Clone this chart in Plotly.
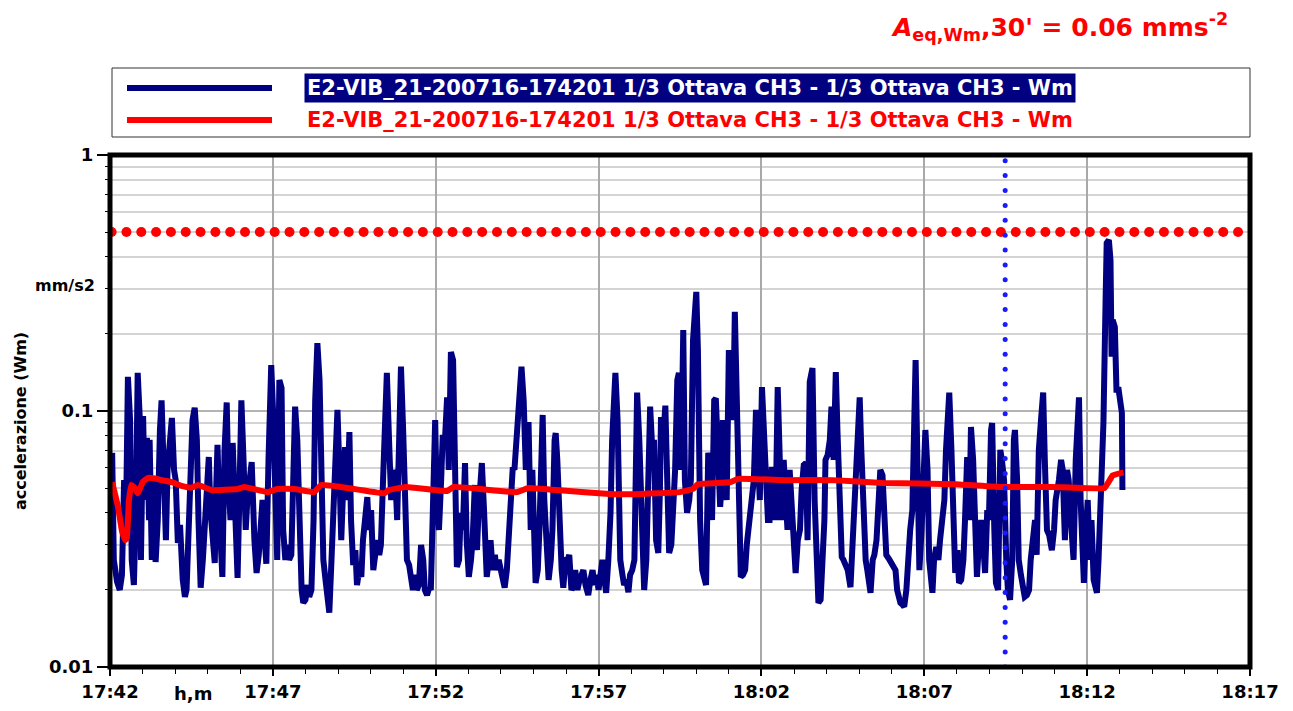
import numpy as np
import pandas as pd
import plotly.graph_objects as go

# ---------------- data ----------------
base_time = pd.Timestamp("2020-07-16 17:42:00")

# blue series: elapsed seconds from 17:42:00 and acceleration (mm/s2)
seg1_t = [4,7,13,18,22,26,29,33,37,40,44,48,51,55,57,61,64,68,72,73,77,81,84,88,92,95,99,103,106,110,
          114,118,121,125,129,134,138,141,145,149,152,156,160,163,167,171,174,178,182,185,189,193,195,198,202,
          207,211,215,218,222,226,230,235,239,242,246,250,253,257,261,266,270,274,277,281,285,288,292,294,297,
          301,305,308]
seg1_v = [0.0686,0.0262,0.0215,0.0200,0.0229,0.0537,0.0313,0.136,0.0922,0.0262,
          0.0209,0.0449,0.141,0.0922,0.0262,0.0955,0.0449,0.0785,0.0375,0.0771,
          0.0262,0.0537,0.0257,0.0375,0.0843,0.110,0.0589,0.0313,0.0589,0.0771,
          0.0939,0.0589,0.0537,0.0305,0.0359,0.0219,0.0188,0.0200,0.0313,0.0589,
          0.0922,0.103,0.0771,0.0375,0.0204,0.0262,0.0343,0.0449,0.0661,0.0410,
          0.0313,0.0255,0.0449,0.0737,0.0375,0.0225,0.0705,0.108,0.0537,0.0375,
          0.0750,0.0449,0.0223,0.0537,0.110,0.0644,0.0343,0.0449,0.0537,0.0632,
          0.0313,0.0233,0.0274,0.0375,0.0449,0.0313,0.0253,0.0644,0.132,0.151,
          0.0922,0.0491,0.0262]

seg2_t = [312,316,319,323,327,330,334,338,341,345,349,353,356,360,364,367,371,375,378,382,
          386,389,393,397,400,404,408,411,415,419,422,426,430,433,437,441,444,448,452,455,
          459,463,466,470,474,477,481,485,488,492,496,499,503,507,510,514,518,521,525,529,
          532,536,540,543,547,551,554,558,562,565,569,573,577,580,584,588,591,595,599,602,
          606,610,613,617,621]
seg2_v = [0.132,0.123,0.0343,0.0262,0.0300,0.0262,0.0274,0.0705,0.104,0.0771,
          0.0313,0.0200,0.0178,0.0183,0.0209,0.0188,0.0200,0.0375,0.110,0.184,
          0.132,0.0589,0.0262,0.0219,0.0183,0.0163,0.0262,0.0410,0.0705,0.101,
          0.0644,0.0313,0.0537,0.0723,0.0449,0.0828,0.0375,0.0250,0.0286,0.0209,
          0.0239,0.0225,0.0313,0.0375,0.0461,0.0343,0.0410,0.0239,0.0262,0.0313,
          0.0274,0.0300,0.0537,0.132,0.141,0.0771,0.0449,0.0537,0.0589,0.0375,
          0.0922,0.149,0.0843,0.0449,0.0262,0.0250,0.0219,0.0200,0.0229,0.0200,
          0.0209,0.0300,0.0262,0.0200,0.0191,0.0204,0.0200,0.0589,0.0922,0.0449,
          0.0343,0.0537,0.0806,0.0771,0.113]

seg3_t = [624,628,632,635,639,643,646,650,654,657,661,665,668,672,676,679,685,689,694,698,
          701,705,709,712,716,720,723,727,731,734,738,742,745,749,755,758,762,766,769,771,
          775,778,784,788,791,795,797,800,804,808,812,815,819,821,824,828,832,835,839,843,
          846,850,854,857,861,865,868,872,876,881,885,889,892,896,900,903,907,911,914,918,
          922,925,929,931,935,936]
seg3_v = [0.0589,0.170,0.158,0.0705,0.0246,0.0262,0.0400,0.0343,0.0626,0.0313,
          0.0225,0.0262,0.0313,0.0514,0.0286,0.0410,0.0626,0.0410,0.0225,0.0262,
          0.0313,0.0239,0.0274,0.0239,0.0262,0.0239,0.0219,0.0204,0.0239,0.0294,
          0.0449,0.0604,0.0589,0.0771,0.121,0.149,0.110,0.0589,0.0771,0.0906,
          0.0343,0.0589,0.0213,0.0239,0.0343,0.0922,0.0965,0.0449,0.0262,0.0219,
          0.0262,0.0343,0.0771,0.0820,0.0644,0.0313,0.0239,0.0204,0.0262,0.0262,
          0.0274,0.0200,0.0209,0.0239,0.0200,0.0219,0.0229,0.0239,0.0209,0.0191,
          0.0219,0.0239,0.0209,0.0229,0.0200,0.0229,0.0262,0.0219,0.0195,0.0262,
          0.0400,0.0771,0.132,0.141,0.0922,0.0537]

seg4_t = [940,944,947,951,955,958,962,966,969,971,975,979,982,984,988,991,995,999,1002,1006,
          1010,1013,1015,1019,1023,1026,1030,1034,1037,1041,1045,1048,1052,1056,1059,1063,1067,1070,1074,1078,
          1080,1083,1087,1091,1094,1098,1102,1105,1109,1113,1116,1120,1124,1127,1129,1133,1136,1140,1144,1148,
          1151,1155,1159,1162,1166,1170,1173,1179,1182,1186,1190,1193,1197,1201,1204,1208,1212,1215,1219,1223,
          1226,1230,1234,1237,1241,1245]
seg4_v = [0.0262,0.0229,0.0209,0.0219,0.0196,0.0229,0.0239,0.0262,0.0843,0.118,
          0.0771,0.0375,0.0239,0.0200,0.0262,0.0644,0.104,0.0705,0.0771,0.0313,
          0.0279,0.0491,0.0948,0.0771,0.105,0.0589,0.0279,0.0300,0.0410,0.0589,
          0.132,0.141,0.0589,0.207,0.0537,0.0400,0.0449,0.0537,0.189,0.271,
          0.292,0.173,0.0375,0.0239,0.0219,0.0209,0.0686,0.0644,0.0375,0.110,
          0.112,0.0705,0.0422,0.0537,0.0922,0.0644,0.0449,0.173,0.110,0.0922,
          0.244,0.0922,0.0313,0.0225,0.0229,0.0239,0.0300,0.0386,0.0410,0.0537,
          0.101,0.0771,0.0449,0.124,0.0843,0.0686,0.0375,0.0375,0.0589,0.0589,
          0.0375,0.124,0.0537,0.0375,0.0644,0.0449]

seg5_t = [1248,1252,1256,1260,1263,1267,1271,1274,1278,1282,1285,1289,1292,1294,1298,1302,1305,1309,1313,1316,
          1318,1322,1326,1329,1333,1337,1340,1344,1348,1351,1355,1359,1364,1368,1371,1375,1379,1381,1384,1388,
          1392,1395,1401,1405,1408,1412,1416,1419,1423,1427,1430,1436,1441,1447,1450,1456,1460,1463,1467,1471,
          1474,1478,1481,1484,1487,1491,1495,1498,1502,1506,1509,1515,1518,1522,1526,1529,1533,1537,1540,1544,
          1546,1550,1553,1557]
seg5_v = [0.0343,0.0589,0.0449,0.0343,0.0233,0.0313,0.0343,0.0491,0.0615,0.0626,
          0.0313,0.130,0.145,0.147,0.0449,0.0200,0.0178,0.0183,0.0262,0.0375,
          0.0644,0.0673,0.0771,0.104,0.0644,0.142,0.0843,0.0375,0.0269,0.0262,
          0.0250,0.0239,0.0205,0.0313,0.0400,0.0537,0.0922,0.113,0.0705,0.0375,
          0.0262,0.0239,0.0195,0.0262,0.0274,0.0313,0.0491,0.0589,0.0562,0.0343,
          0.0274,0.0262,0.0250,0.0239,0.0200,0.0178,0.0175,0.0172,0.0200,0.0286,
          0.0343,0.0410,0.110,0.158,0.0705,0.0239,0.0343,0.0589,0.0843,0.0589,
          0.0262,0.0195,0.0262,0.0294,0.0262,0.0313,0.0375,0.0449,0.0705,0.110,
          0.118,0.0705,0.0375,0.0233]

seg6_t = [1561,1564,1568,1572,1575,1579,1583,1586,1590,1594,1597,1601,1605,1608,1612,1616,1619,1623,1625,1629,
          1632,1636,1640,1643,1647,1651,1654,1658,1662,1665,1667,1671,1674,1678,1682,1685,1689,1693,1696,1700,
          1704,1707,1711,1715,1719,1722,1726,1730,1735,1739,1742,1748,1752,1755,1759,1763,1766,1770,1775,1779,
          1783,1785,1788,1794,1797,1801,1805,1808,1812,1818,1821,1825,1829,1830,1834,1836,1840,1843,1845,1847,
          1851,1854,1858,1862,1864,1865]
seg6_v = [0.0286,0.0213,0.0219,0.0262,0.0375,0.0661,0.0375,0.0866,0.0644,0.0343,
          0.0225,0.0313,0.0375,0.0313,0.0233,0.0410,0.0375,0.0843,0.0898,0.0343,
          0.0213,0.0200,0.0705,0.0644,0.0537,0.0262,0.0200,0.0183,0.0262,0.0771,
          0.0843,0.0537,0.0262,0.0229,0.0200,0.0188,0.0191,0.0200,0.0262,0.0313,
          0.0375,0.0274,0.0705,0.0922,0.118,0.0644,0.0343,0.0328,0.0286,0.0343,
          0.0449,0.0537,0.0644,0.0589,0.0313,0.0589,0.0537,0.0375,0.0262,0.0644,
          0.110,0.113,0.0449,0.0213,0.0313,0.0449,0.0262,0.0375,0.0219,0.0195,
          0.0262,0.0449,0.0771,0.0898,0.271,0.453,0.466,0.389,0.163,0.227,
          0.213,0.121,0.121,0.110,0.0983,0.0491]

# red series: running equivalent level (mm/s2)
leq_t = [4,15,22,28,31,35,39,46,51,61,70,83,95,114,132,150,162,187,235,248,290,308,340,376,389,426,
         505,514,545,621,633,749,771,823,927,964,1050,1074,1083,1142,1157,1245,1331,1423,1557,1643,
         1735,1832,1840,1847,1867]
leq_v = [0.0527,0.042,0.034,0.0313,0.032,0.045,0.0514,0.050,0.0477,0.053,0.0548,0.0545,0.0537,0.0527,
         0.051,0.0502,0.0514,0.0491,0.0496,0.0505,0.0482,0.0496,0.0496,0.0482,0.0514,0.0505,
         0.0477,0.0491,0.0505,0.0487,0.0505,0.0482,0.0500,0.0491,0.0473,0.0473,0.0482,0.0496,0.0518,
         0.0527,0.0543,0.0537,0.0537,0.0523,0.0518,0.0505,0.0505,0.0500,0.0530,0.0560,0.0576]

threshold_value = 0.5          # red dotted limit line (mm/s2)
cursor_seconds = 1649          # blue dotted cursor (18:09:29)
axis_span_min = 35             # 17:42 -> 18:17
tick_labels = ["17:42", "17:47", "17:52", "17:57", "18:02", "18:07", "18:12", "18:17"]
y_tick_vals = [0.01, 0.1, 1]
y_tick_text = ["0.01", "0.1", "1"]
y_minor_vals = [0.02, 0.03, 0.04, 0.05, 0.06, 0.07, 0.08, 0.09,
                0.2, 0.3, 0.4, 0.5, 0.6, 0.7, 0.8, 0.9]
series_name = "E2-VIB_21-200716-174201 1/3 Ottava CH3 - 1/3 Ottava CH3 - Wm"
title_text = "<b><i>A</i><sub>eq,Wm</sub>,30' = 0.06 mms<sup>-2</sup></b>"

# ---------------- build ----------------
blue_t = seg1_t + seg2_t + seg3_t + seg4_t + seg5_t + seg6_t
blue_v = seg1_v + seg2_v + seg3_v + seg4_v + seg5_v + seg6_v
x_blue = base_time + pd.to_timedelta(blue_t, unit="s")
x_leq = base_time + pd.to_timedelta(leq_t, unit="s")
x_end = base_time + pd.Timedelta(minutes=axis_span_min)
tick_vals = [base_time + pd.Timedelta(minutes=5 * i) for i in range(len(tick_labels))]

thr_x = base_time + pd.to_timedelta(np.linspace(3, 2078, 77), unit="s")
thr_y = [threshold_value] * len(thr_x)
cur_y = np.logspace(np.log10(0.95), -2, 35)
cur_x = [base_time + pd.Timedelta(seconds=cursor_seconds)] * len(cur_y)

FONT = "DejaVu Sans"
PAGE_OFF = 8                     # default body margin of the html page
FIG_W, FIG_H = 1293 - 2 * PAGE_OFF, 711 - 2 * PAGE_OFF
# plot area edges in page pixels
PL, PR, PT, PB = 110, 1250, 155, 667


def px(x):
    return (x - PL) / (PR - PL)


def py(y):
    return (PB - y) / (PB - PT)


fig = go.Figure()
fig.add_trace(go.Scatter(x=thr_x, y=thr_y, mode="markers",
                         marker=dict(color="#ff0000", size=10), hoverinfo="skip"))
fig.add_trace(go.Scatter(x=x_blue, y=blue_v, mode="lines", name=series_name,
                         line=dict(color="#000080", width=6)))
fig.add_trace(go.Scatter(x=x_leq, y=leq_v, mode="lines", name=series_name,
                         line=dict(color="#ff0000", width=6, shape="spline", smoothing=0.3)))
fig.add_trace(go.Scatter(x=cur_x, y=cur_y, mode="markers",
                         marker=dict(color="#1a1aff", size=5), hoverinfo="skip"))

tickfont = dict(family=FONT, size=18, color="black", weight="bold")

fig.update_layout(
    width=FIG_W, height=FIG_H, autosize=False,
    margin=dict(l=PL - PAGE_OFF, r=FIG_W - (PR - PAGE_OFF), t=PT - PAGE_OFF,
                b=FIG_H - (PB - PAGE_OFF), pad=0, autoexpand=False),
    plot_bgcolor="white", paper_bgcolor="white",
    showlegend=False,
    xaxis=dict(type="date", range=[base_time, x_end], automargin=False,
               tickmode="array", tickvals=tick_vals, ticktext=tick_labels,
               ticks="outside", ticklen=8, tickwidth=1.5, tickcolor="black",
               showgrid=True, gridcolor="#a9a9a9", gridwidth=1.5,
               zeroline=False, showline=False, tickfont=tickfont,
               minor=dict(tick0=base_time, dtick=60000, ticks="outside", ticklen=6,
                          tickwidth=1, tickcolor="black", showgrid=False)),
    yaxis=dict(type="log", range=[-2, 0], automargin=False,
               tickmode="array", tickvals=y_tick_vals, ticktext=y_tick_text,
               ticks="outside", ticklen=12, tickwidth=1.5, tickcolor="black",
               showgrid=True, gridcolor="#b4b4b4", gridwidth=2,
               zeroline=False, showline=False, tickfont=tickfont,
               minor=dict(tickmode="array", tickvals=y_minor_vals, ticks="outside", ticklen=4,
                          tickwidth=1, tickcolor="black", showgrid=True,
                          gridcolor="#d4d4d4", gridwidth=2)),
)

shapes = [
    # plot frame
    dict(type="rect", xref="paper", yref="paper", x0=0, x1=1, y0=0, y1=1,
         line=dict(color="black", width=5), layer="above"),
    # legend box
    dict(type="rect", xref="paper", yref="paper", x0=px(112), x1=px(1250), y0=py(137), y1=py(68),
         line=dict(color="#333333", width=1)),
    dict(type="line", xref="paper", yref="paper", x0=px(127), x1=px(272), y0=py(88), y1=py(88),
         line=dict(color="#000080", width=6)),
    dict(type="line", xref="paper", yref="paper", x0=px(127), x1=px(272), y0=py(120), y1=py(120),
         line=dict(color="#ff0000", width=6)),
]
fig.update_layout(shapes=shapes)

annotations = [
    dict(text=title_text, xref="paper", yref="paper", x=px(1230), y=py(27),
         xanchor="right", yanchor="middle", showarrow=False,
         font=dict(family=FONT, size=25, color="#ff0000")),
    dict(text=series_name, xref="paper", yref="paper", x=px(304), y=py(88),
         xanchor="left", yanchor="middle", showarrow=False, bgcolor="#000080", borderpad=2,
         font=dict(family=FONT, size=21, color="white", weight="bold")),
    dict(text=series_name, xref="paper", yref="paper", x=px(304), y=py(120),
         xanchor="left", yanchor="middle", showarrow=False, borderpad=2,
         font=dict(family=FONT, size=21, color="#ff0000", weight="bold")),
    dict(text="accelerazione (Wm)", xref="paper", yref="paper", x=px(20), y=py(421),
         xanchor="center", yanchor="middle", textangle=-90, showarrow=False,
         font=dict(family=FONT, size=16, color="black", weight="bold")),
    dict(text="mm/s2", xref="paper", yref="paper", x=px(65), y=py(285),
         xanchor="center", yanchor="middle", showarrow=False,
         font=dict(family=FONT, size=16, color="black", weight="bold")),
    dict(text="h,m", xref="paper", yref="paper", x=px(193), y=py(693),
         xanchor="center", yanchor="middle", showarrow=False,
         font=dict(family=FONT, size=18, color="black", weight="bold")),
]
fig.update_layout(annotations=annotations)

fig.write_html("out.html")
